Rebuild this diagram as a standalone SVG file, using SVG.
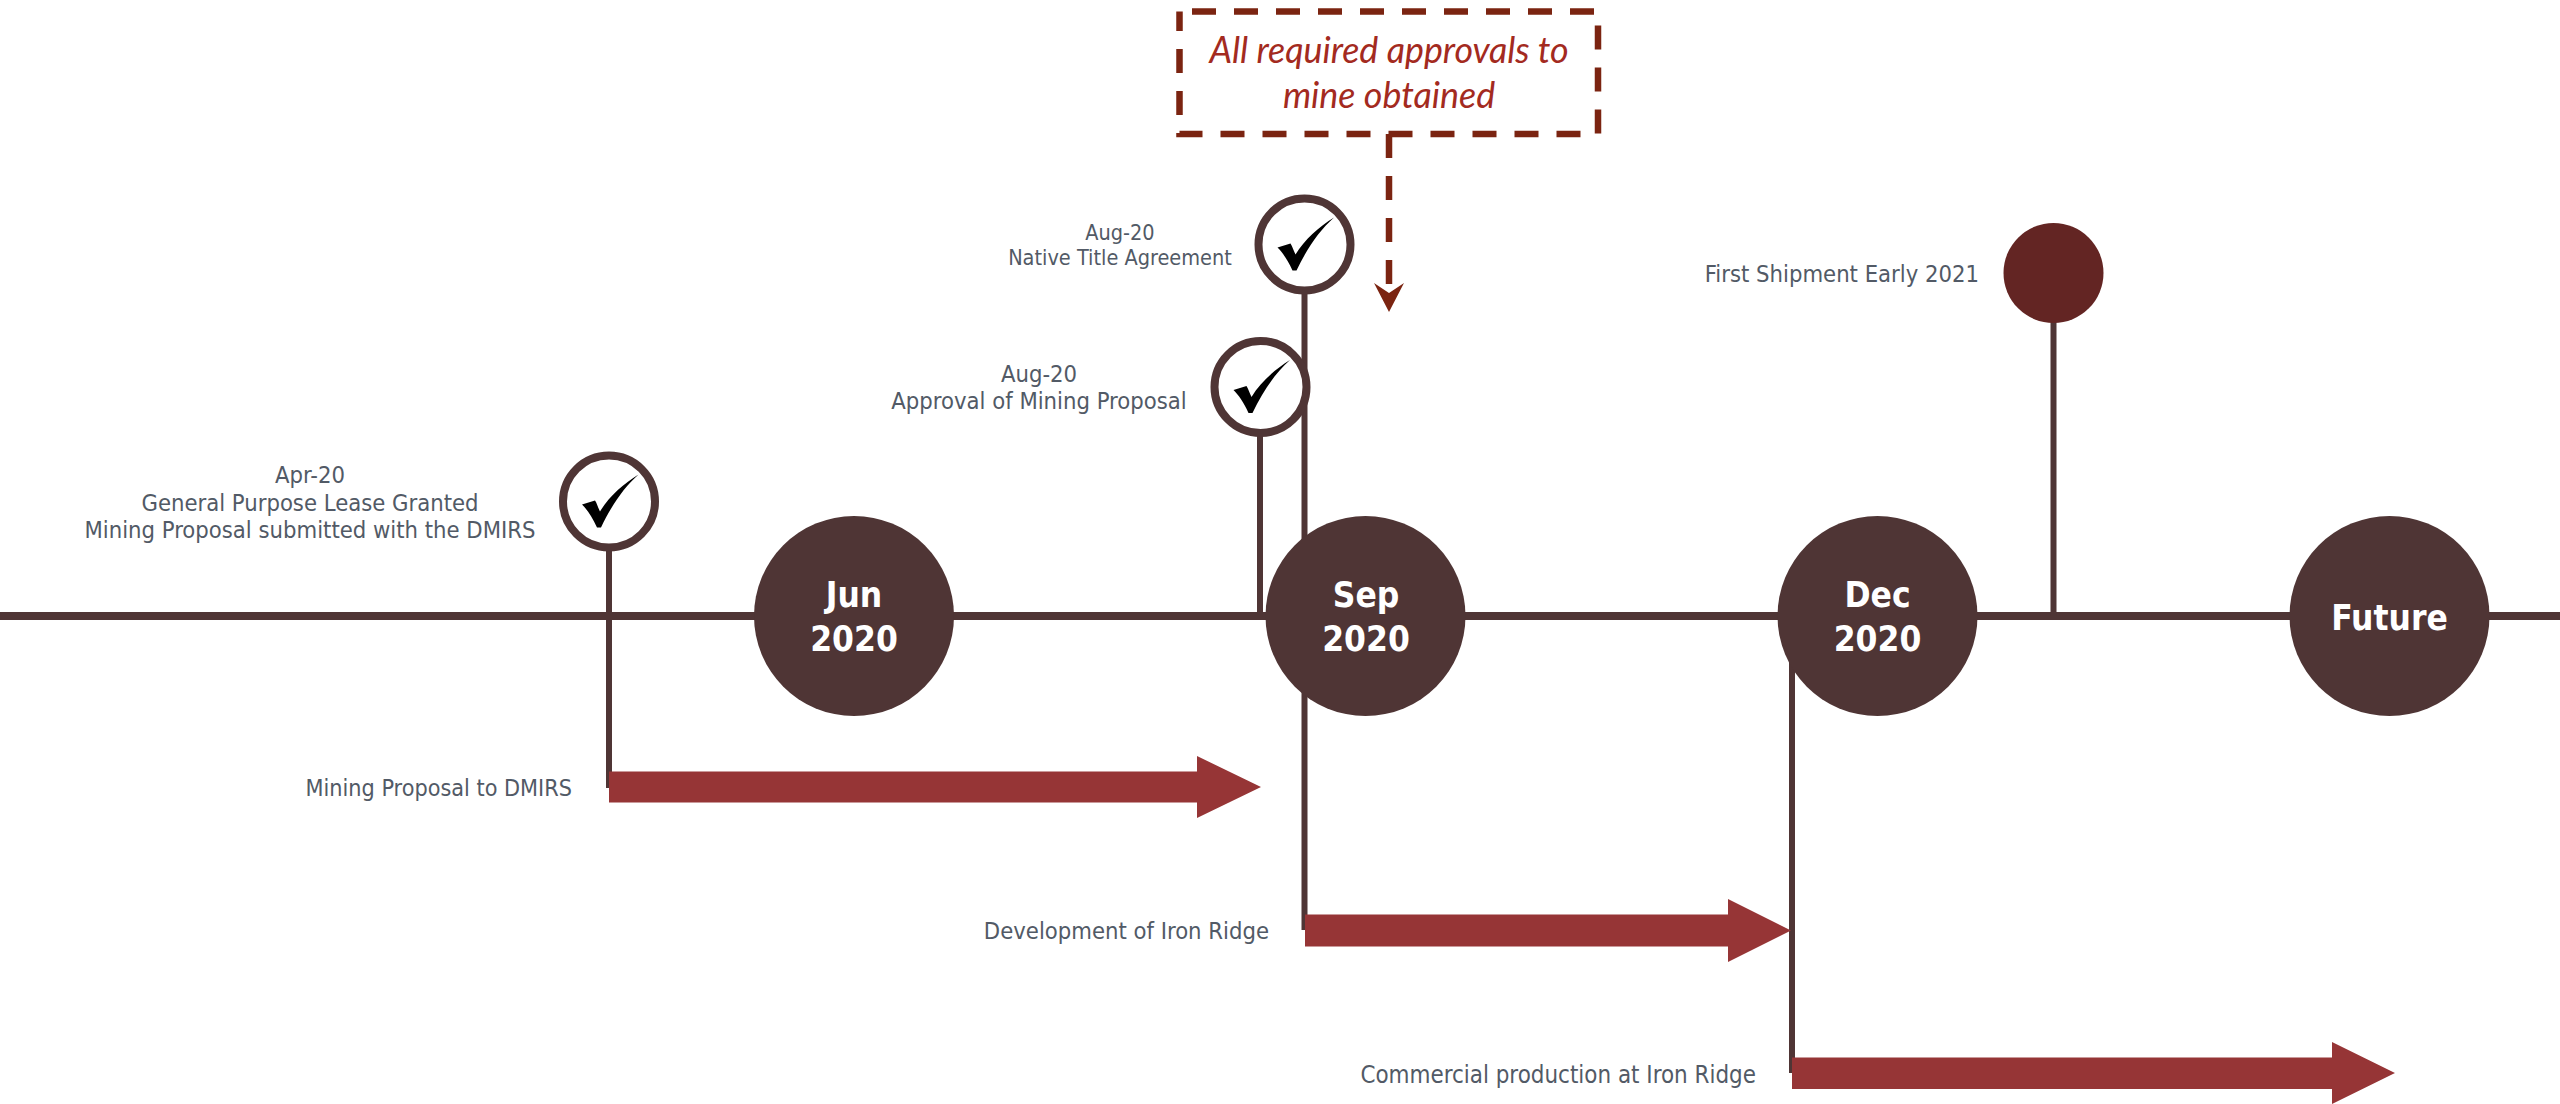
<svg xmlns="http://www.w3.org/2000/svg" width="2560" height="1104" viewBox="0 0 2560 1104">
<style>
.lbl{font-family:"DejaVu Sans",sans-serif;font-stretch:condensed;font-size:23.600px;fill:#525a66}
.sm{font-size:21.500px}
.mid{text-anchor:middle}.end{text-anchor:end}
.big{font-family:"DejaVu Sans",sans-serif;font-stretch:condensed;font-weight:700;font-size:35px;fill:#fff;text-anchor:middle}
.call{font-family:"Lato",sans-serif;font-style:italic;font-size:35.800px;fill:#a32a20;text-anchor:middle}
.stem{stroke:#4f3535;stroke-width:6;fill:none}
.ring{fill:#fff;stroke:#4f3535;stroke-width:8}
.hub{fill:#4f3535}
.bar{fill:#963536}
.dash{fill:none;stroke:#7b2411;stroke-width:6.500;stroke-dasharray:24 18}
</style>
<defs>
<path id="tick" fill="#000" d="M29.5-27C15-14 3 3-8 26L-12 26C-17 15-22 8-27 3L-14-1C-12 2-11 6-9 10 0-5 15-18 29.5-27Z"/>
</defs>
<rect width="2560" height="1104" fill="#fff"/>
<g id="connectors">
<line x1="0" y1="616" x2="2560" y2="616" stroke="#4f3535" stroke-width="8"/>
<line class="stem" x1="609" y1="545" x2="609" y2="788"/>
<line class="stem" x1="1304.5" y1="290" x2="1304.5" y2="930"/>
<line class="stem" x1="1260" y1="430" x2="1260" y2="616"/>
<line class="stem" x1="2053.500" y1="320" x2="2053.500" y2="616"/>
<line class="stem" x1="1792" y1="660" x2="1792" y2="1073"/>
<path class="bar" d="M609 771.500H1197V756L1261 787 1197 818V802.500H609Z"/>
<path class="bar" d="M1305 914.500H1728V899L1791 930.500 1728 962V946.500H1305Z"/>
<path class="bar" d="M1792 1057.500H2332V1042L2395 1073 2332 1104V1089H1792Z"/>
<path class="dash" d="M1389 134V284"/>
<path fill="#7b2411" d="M1374 283L1389 293 1404 283 1389 312Z"/>
</g>
<g id="callout">
<rect class="dash" style="stroke-dashoffset:29.500" x="1179.500" y="11.500" width="418.500" height="122.500"/>
<text class="call" x="1389" y="62.500">All required approvals to</text>
<text class="call" x="1389" y="107.500">mine obtained</text>
</g>
<g id="node-apr"><circle class="ring" cx="609" cy="501.500" r="46"/><use href="#tick" x="609" y="501.500"/>
<text class="lbl mid" x="310" y="483">Apr-20</text><text class="lbl mid" x="310" y="510.500">General Purpose Lease Granted</text><text class="lbl mid" x="310" y="538">Mining Proposal submitted with the DMIRS</text></g>
<g id="node-aug-mining"><circle class="ring" cx="1260.500" cy="387" r="46"/><use href="#tick" x="1260.500" y="387"/>
<text class="lbl mid" x="1039" y="381.500">Aug-20</text><text class="lbl mid" x="1039" y="409">Approval of Mining Proposal</text></g>
<g id="node-aug-title"><circle class="ring" cx="1304.500" cy="244.500" r="46"/><use href="#tick" x="1304.500" y="244.500"/>
<text class="lbl sm mid" x="1120" y="240">Aug-20</text><text class="lbl sm mid" x="1120" y="265">Native Title Agreement</text></g>
<g id="node-first"><circle cx="2053.500" cy="273" r="50" fill="#632523"/><text class="lbl end" x="1979" y="281.500">First Shipment Early 2021</text></g>
<g id="node-jun"><circle class="hub" cx="854" cy="616" r="100"/><text class="big" x="854" y="607">Jun</text><text class="big" x="854" y="651">2020</text></g>
<g id="node-sep"><circle class="hub" cx="1365.500" cy="616" r="100"/><text class="big" x="1366" y="607">Sep</text><text class="big" x="1366" y="651">2020</text></g>
<g id="node-dec"><circle class="hub" cx="1877.500" cy="616" r="100"/><text class="big" x="1877.500" y="607">Dec</text><text class="big" x="1877.500" y="651">2020</text></g>
<g id="node-future"><circle class="hub" cx="2389.500" cy="616" r="100"/><text class="big" x="2389.500" y="629.500">Future</text></g>
<g id="labels">
<text class="lbl end" style="font-size:23.200px" x="572" y="795.500">Mining Proposal to DMIRS</text>
<text class="lbl end" x="1269" y="939">Development of Iron Ridge</text>
<text class="lbl end" style="font-size:23.900px" x="1756" y="1082.500">Commercial production at Iron Ridge</text>
</g>
</svg>
